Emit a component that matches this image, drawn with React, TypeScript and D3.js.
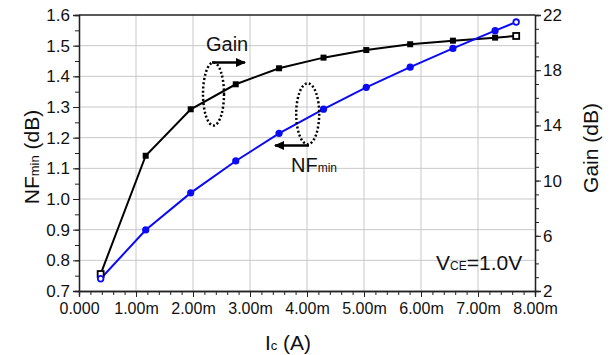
import { useRef, useEffect } from "react";
import * as d3 from "d3";

// collector current (A)
const icValues = [0.38e-3, 1.17e-3, 1.96e-3, 2.75e-3, 3.51e-3, 4.29e-3, 5.04e-3, 5.81e-3, 6.56e-3, 7.3e-3, 7.67e-3];
const nfminValues = [0.74, 0.899, 1.02, 1.124, 1.214, 1.293, 1.364, 1.43, 1.491, 1.549, 1.577];
const gainValues = [3.23, 11.8, 15.17, 16.98, 18.14, 18.91, 19.46, 19.88, 20.14, 20.36, 20.48];

const xTicks = [0, 1e-3, 2e-3, 3e-3, 4e-3, 5e-3, 6e-3, 7e-3, 8e-3];
const xTickLabels = ["0.000", "1.00m", "2.00m", "3.00m", "4.00m", "5.00m", "6.00m", "7.00m", "8.00m"];
const nfTicks = [0.7, 0.8, 0.9, 1.0, 1.1, 1.2, 1.3, 1.4, 1.5, 1.6];
const gainTicks = [2, 6, 10, 14, 18, 22];

const FONT = "'Liberation Sans', Arial, sans-serif";

const App = () => {
  const svgRef = useRef<SVGSVGElement>(null);

  useEffect(() => {
    const width = 611;
    const height = 355;
    const m = { left: 79, right: 535, top: 15, bottom: 291 };

    const svg = d3.select(svgRef.current).attr("width", width).attr("height", height);
    svg.selectAll("*").remove();

    const x = d3.scaleLinear().domain([0, 8e-3]).range([m.left, m.right]);
    const yNF = d3.scaleLinear().domain([0.7, 1.6]).range([m.bottom, m.top]);
    const yG = d3.scaleLinear().domain([2, 22]).range([m.bottom, m.top]);

    // grid
    const grid = svg.append("g").attr("stroke", "#c8c8c8").attr("stroke-width", 1);
    grid
      .selectAll("line.gx")
      .data(xTicks.slice(1, -1))
      .join("line")
      .attr("x1", (d) => x(d))
      .attr("x2", (d) => x(d))
      .attr("y1", m.top)
      .attr("y2", m.bottom);
    grid
      .selectAll("line.gy")
      .data(nfTicks.slice(1, -1))
      .join("line")
      .attr("x1", m.left)
      .attr("x2", m.right)
      .attr("y1", (d) => yNF(d))
      .attr("y2", (d) => yNF(d));

    // axes
    const minorX = d3.range(0, 8.0001e-3, 0.2e-3);
    const minorNF = d3.range(0.7, 1.6001, 0.05);
    const minorG = d3.range(2, 22.001, 1);

    const xAxis = svg
      .append("g")
      .attr("transform", `translate(0,${m.bottom})`)
      .call(d3.axisBottom(x).tickValues(minorX).tickSize(4).tickFormat(() => ""));
    xAxis
      .append("g")
      .attr("class", "xlab")
      .call(
        d3
          .axisBottom(x)
          .tickValues(xTicks)
          .tickSize(6)
          .tickPadding(6)
          .tickFormat((_, i) => xTickLabels[i])
      );

    const leftAxis = svg
      .append("g")
      .attr("transform", `translate(${m.left},0)`)
      .call(d3.axisLeft(yNF).tickValues(minorNF).tickSize(4).tickFormat(() => ""));
    leftAxis
      .append("g")
      .call(d3.axisLeft(yNF).tickValues(nfTicks).tickSize(6).tickPadding(3).tickFormat(d3.format(".1f")));

    const rightAxis = svg
      .append("g")
      .attr("transform", `translate(${m.right},0)`)
      .call(d3.axisRight(yG).tickValues(minorG).tickSize(4).tickFormat(() => ""));
    rightAxis
      .append("g")
      .call(d3.axisRight(yG).tickValues(gainTicks).tickSize(6).tickPadding(2).tickFormat(d3.format("d")));

    svg.selectAll(".domain").attr("stroke", "#222").attr("stroke-width", 1.3);
    svg.selectAll(".tick line").attr("stroke", "#222");
    svg
      .selectAll(".tick text")
      .attr("font-family", FONT)
      .attr("font-size", 17)
      .attr("fill", "#111");
    svg.selectAll(".xlab .tick text").attr("font-size", 16);

    // top border
    svg
      .append("line")
      .attr("x1", m.left)
      .attr("x2", m.right)
      .attr("y1", m.top)
      .attr("y2", m.top)
      .attr("stroke", "#222")
      .attr("stroke-width", 1.3);

    // series
    const nfLine = d3
      .line<number>()
      .x((_, i) => x(icValues[i]))
      .y((d) => yNF(d));
    const gLine = d3
      .line<number>()
      .x((_, i) => x(icValues[i]))
      .y((d) => yG(d));

    svg
      .append("path")
      .attr("d", gLine(gainValues))
      .attr("fill", "none")
      .attr("stroke", "#000")
      .attr("stroke-width", 2);
    svg
      .append("path")
      .attr("d", nfLine(nfminValues))
      .attr("fill", "none")
      .attr("stroke", "#0a0af5")
      .attr("stroke-width", 2);

    const last = icValues.length - 1;
    svg
      .selectAll("rect.gm")
      .data(gainValues)
      .join("rect")
      .attr("x", (_, i) => x(icValues[i]) - 3)
      .attr("y", (d) => yG(d) - 3)
      .attr("width", 6)
      .attr("height", 6)
      .attr("fill", (_, i) => (i === 0 || i === last ? "#fff" : "#000"))
      .attr("stroke", "#000")
      .attr("stroke-width", (_, i) => (i === 0 || i === last ? 1.8 : 0));
    svg
      .selectAll("circle.nm")
      .data(nfminValues)
      .join("circle")
      .attr("cx", (_, i) => x(icValues[i]))
      .attr("cy", (d) => yNF(d))
      .attr("r", (_, i) => (i === 0 || i === last ? 2.8 : 3.6))
      .attr("fill", (_, i) => (i === 0 || i === last ? "#fff" : "#0a0af5"))
      .attr("stroke", "#0a0af5")
      .attr("stroke-width", (_, i) => (i === 0 || i === last ? 1.8 : 0));

    // annotations
    const defs = svg.append("defs");
    defs
      .append("marker")
      .attr("id", "ah")
      .attr("markerUnits", "userSpaceOnUse")
      .attr("viewBox", "0 0 10 9")
      .attr("refX", 9)
      .attr("refY", 4.5)
      .attr("markerWidth", 10)
      .attr("markerHeight", 9)
      .attr("orient", "auto")
      .append("path")
      .attr("d", "M0,0 L10,4.5 L0,9 z")
      .attr("fill", "#000");

    const ann = svg.append("g");
    ann
      .append("ellipse")
      .attr("cx", 213.5)
      .attr("cy", 94)
      .attr("rx", 10.5)
      .attr("ry", 31.5);
    ann
      .append("ellipse")
      .attr("cx", 307.7)
      .attr("cy", 113.8)
      .attr("rx", 11.5)
      .attr("ry", 30.5);
    ann
      .selectAll("ellipse")
      .attr("fill", "none")
      .attr("stroke", "#000")
      .attr("stroke-width", 2.5)
      .attr("stroke-dasharray", "2,2.2");

    ann
      .append("line")
      .attr("x1", 212)
      .attr("x2", 245)
      .attr("y1", 62.5)
      .attr("y2", 62.5);
    ann
      .append("line")
      .attr("x1", 309)
      .attr("x2", 275)
      .attr("y1", 145.5)
      .attr("y2", 145.5);
    ann
      .selectAll("line")
      .attr("stroke", "#000")
      .attr("stroke-width", 2.5)
      .attr("marker-end", "url(#ah)");

    const text = (tx: number, ty: number, size: number, anchor = "start") =>
      svg
        .append("text")
        .attr("x", tx)
        .attr("y", ty)
        .attr("font-family", FONT)
        .attr("font-size", size)
        .attr("text-anchor", anchor)
        .attr("fill", "#111");

    text(206, 51, 20).text("Gain");
    const nfLbl = text(291, 172, 20);
    nfLbl.append("tspan").text("NF");
    nfLbl.append("tspan").attr("font-size", 12).text("min");

    const vce = text(436, 270, 21);
    vce.append("tspan").text("V");
    vce.append("tspan").attr("font-size", 12).text("CE");
    vce.append("tspan").text("=1.0V");

    // axis titles
    const yl = svg
      .append("text")
      .attr("transform", `translate(39,157) rotate(-90)`)
      .attr("text-anchor", "middle")
      .attr("font-family", FONT)
      .attr("font-size", 21)
      .attr("fill", "#111");
    yl.append("tspan").text("NF");
    yl.append("tspan").attr("font-size", 13).text("min");
    yl.append("tspan").text(" (dB)");

    svg
      .append("text")
      .attr("transform", `translate(598,148) rotate(-90)`)
      .attr("text-anchor", "middle")
      .attr("font-family", FONT)
      .attr("font-size", 21)
      .attr("fill", "#111")
      .text("Gain (dB)");

    const xl = text(288, 350, 21, "middle");
    xl.append("tspan").text("I");
    xl.append("tspan").attr("font-size", 13).text("c");
    xl.append("tspan").text(" (A)");
  }, []);

  return (
    <svg
      ref={svgRef}
      style={{ position: "absolute", left: 0, top: 0, background: "#fff" }}
    />
  );
};

export default App;
